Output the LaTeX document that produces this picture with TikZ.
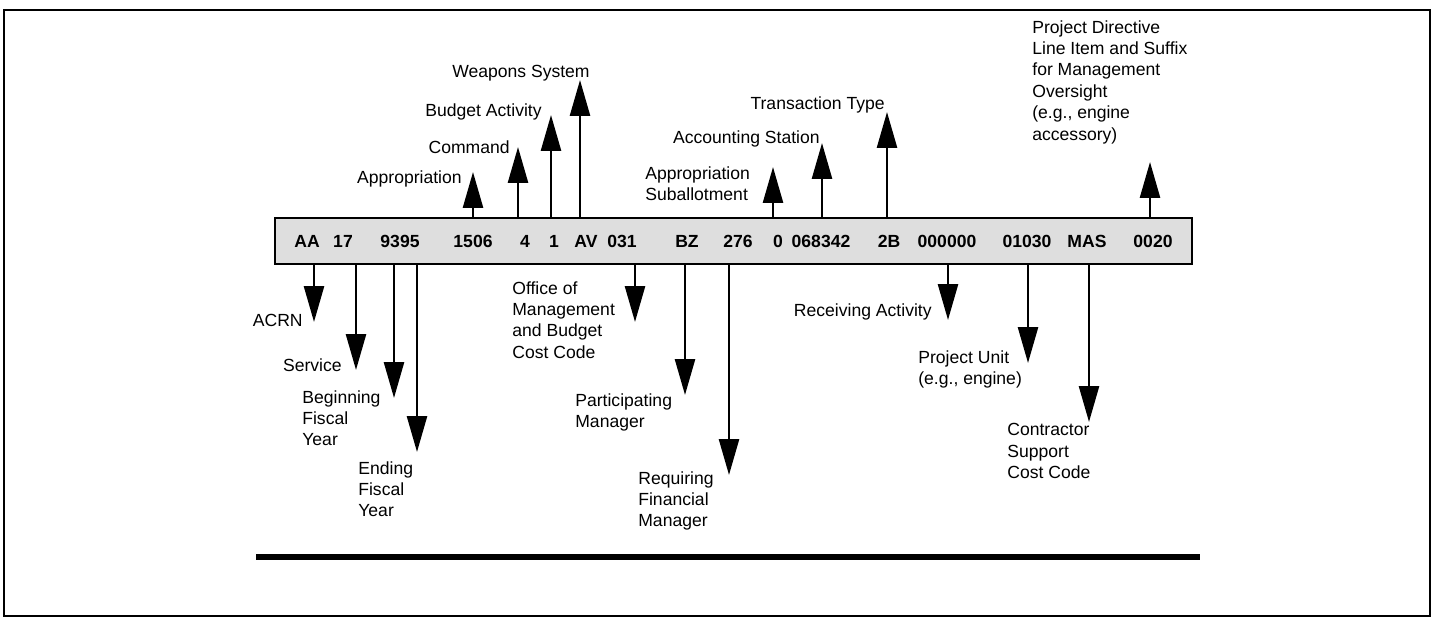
\documentclass[tikz,border=0pt]{standalone}
\usepackage{fontspec}
\setmainfont{Liberation Sans}
\usetikzlibrary{arrows.meta}

\begin{document}
\begin{tikzpicture}[x=0.02cm, y=-0.02cm,
            lbl/.style={font={\fontsize{10}{12.2}\selectfont}, inner sep=0pt},
            multi/.style={lbl, align=left, anchor=north west},
            code/.style={font={\fontsize{10}{12}\selectfont\bfseries}, inner sep=0pt},
            codebar/.style={draw, line width=1.5pt, fill=black!13, minimum width=18.34cm, minimum height=0.92cm},
            arr/.style={line width=1.5pt, -{Triangle[length=0.72cm,width=0.4cm]}}]
            \useasboundingbox (0,0) rectangle (1436,619);
            
            % Frame
            \draw[line width=0.9pt] (4,10) rectangle (1430,616);
            
            % Code bar
            \node[codebar] (bar) at (733.5,241) {};
            \node[code] (cAA) at (307,241) {AA};
            \node[code] (c17) at (343,241) {17};
            \node[code] (c9395) at (400,241) {9395};
            \node[code] (c1506) at (473,241) {1506};
            \node[code] (c4) at (525,241) {4};
            \node[code] (c1) at (554,241) {1};
            \node[code] (cAV) at (586,241) {AV};
            \node[code] (c031) at (622,241) {031};
            \node[code] (cBZ) at (687,241) {BZ};
            \node[code] (c276) at (738,241) {276};
            \node[code] (c0) at (778,241) {0};
            \node[code] (c068342) at (821,241) {068342};
            \node[code] (c2B) at (889,241) {2B};
            \node[code] (c000000) at (947,241) {000000};
            \node[code] (c01030) at (1027,241) {01030};
            \node[code] (cMAS) at (1087,241) {MAS};
            \node[code] (c0020) at (1153,241) {0020};
            
            % Tips of the arrows above the bar
            \coordinate (tApr) at (473,172);
            \coordinate (tCmd) at (518,147);
            \coordinate (tBud) at (551,115);
            \coordinate (tWpn) at (580,80);
            \coordinate (tSub) at (773,167);
            \coordinate (tAcc) at (822,143);
            \coordinate (tTrn) at (887,112);
            \coordinate (tPrj) at (1150,162);
            
            % Upper labels
            \node[lbl, anchor=base east] (lApr) at (462,183) {Appropriation};
            \node[lbl, anchor=base east] (lCmd) at (510,153) {Command};
            \node[lbl, anchor=base east] (lBud) at (542,116) {Budget Activity};
            \node[lbl, anchor=base east] (lWpn) at (590,77) {Weapons System};
            \node[multi] (lSub) at (645,166) {Appropriation\\Suballotment};
            \node[lbl, anchor=base east] (lAcc) at (820,143) {Accounting Station};
            \node[lbl, anchor=base east] (lTrn) at (885,109) {Transaction Type};
            \node[multi] (lPrj) at (1032,20) {Project Directive\\Line Item and Suffix\\for Management\\Oversight\\(e.g., engine\\accessory)};
            
            % Arrows up
            \draw[arr] (bar.north -| tApr) -- (tApr);
            \draw[arr] (bar.north -| tCmd) -- (tCmd);
            \draw[arr] (bar.north -| tBud) -- (tBud);
            \draw[arr] (bar.north -| tWpn) -- (tWpn);
            \draw[arr] (bar.north -| tSub) -- (tSub);
            \draw[arr] (bar.north -| tAcc) -- (tAcc);
            \draw[arr] (bar.north -| tTrn) -- (tTrn);
            \draw[arr] (bar.north -| tPrj) -- (tPrj);
            
            % Tips of the arrows below the bar
            \coordinate (tAcrn) at (314,322);
            \coordinate (tSrv) at (356,370);
            \coordinate (tBfy) at (394,398);
            \coordinate (tEfy) at (417,452);
            \coordinate (tOmb) at (635,322);
            \coordinate (tPar) at (685,395);
            \coordinate (tReq) at (729,475);
            \coordinate (tRcv) at (948,320);
            \coordinate (tPun) at (1028,363);
            \coordinate (tCon) at (1089,422);
            
            % Lower labels
            \node[lbl, anchor=base east] (lAcrn) at (303,326) {ACRN};
            \node[lbl, anchor=base east] (lSrv) at (342,371) {Service};
            \node[multi] (lBfy) at (302,390) {Beginning\\Fiscal\\Year};
            \node[multi] (lEfy) at (358,461) {Ending\\Fiscal\\Year};
            \node[multi] (lOmb) at (512,281) {Office of\\Management\\and Budget\\Cost Code};
            \node[multi] (lPar) at (575,393) {Participating\\Manager};
            \node[multi] (lReq) at (638,471) {Requiring\\Financial\\Manager};
            \node[lbl, anchor=base east] (lRcv) at (932,316) {Receiving Activity};
            \node[multi] (lPun) at (918,350) {Project Unit\\(e.g., engine)};
            \node[multi] (lCon) at (1007,423) {Contractor\\Support\\Cost Code};
            
            % Arrows down
            \draw[arr] (bar.south -| tAcrn) -- (tAcrn);
            \draw[arr] (bar.south -| tSrv) -- (tSrv);
            \draw[arr] (bar.south -| tBfy) -- (tBfy);
            \draw[arr] (bar.south -| tEfy) -- (tEfy);
            \draw[arr] (bar.south -| tOmb) -- (tOmb);
            \draw[arr] (bar.south -| tPar) -- (tPar);
            \draw[arr] (bar.south -| tReq) -- (tReq);
            \draw[arr] (bar.south -| tRcv) -- (tRcv);
            \draw[arr] (bar.south -| tPun) -- (tPun);
            \draw[arr] (bar.south -| tCon) -- (tCon);
            
            % Rule under the figure
            \draw[line width=3pt] (256,557) -- (1200,557);
        \end{tikzpicture}
\end{document}
